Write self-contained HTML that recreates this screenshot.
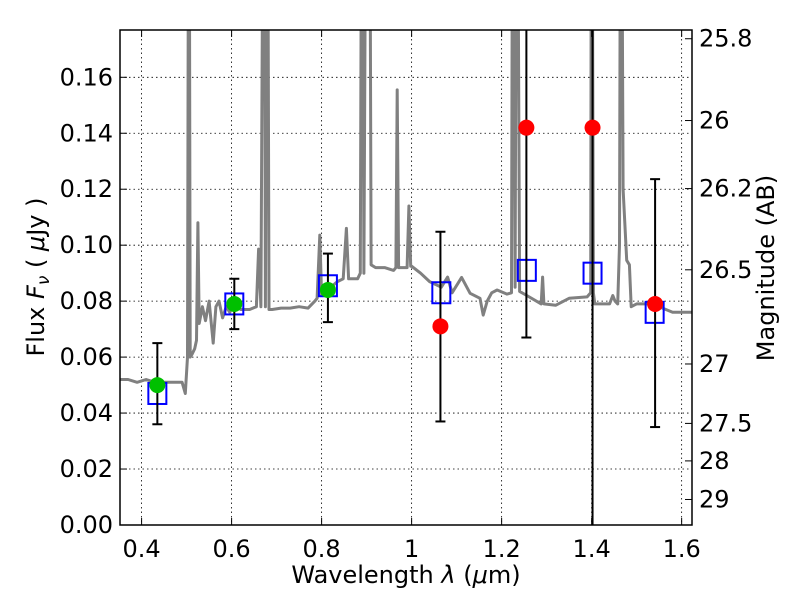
<!DOCTYPE html>
<html><head><meta charset="utf-8">
<style>
html,body{margin:0;padding:0;background:#fff;width:800px;height:600px;overflow:hidden;}
svg{display:block;}
svg text{font-family:"DejaVu Sans","Liberation Sans",sans-serif;fill:#000;}
</style></head>
<body>
<svg id="chart" width="800" height="600" viewBox="0 0 800 600" xmlns="http://www.w3.org/2000/svg">
<defs><clipPath id="plotclip"><rect x="120" y="30" width="572" height="495"/></clipPath></defs>
<rect x="0" y="0" width="800" height="600" fill="#fff"/>
<g id="grid"></g>
<g id="spec" clip-path="url(#plotclip)"></g>
<g id="marks" clip-path="url(#plotclip)"></g>
<g id="axes"></g>
<text x="406" y="583" font-size="24" text-anchor="middle">Wavelength  <tspan font-style="italic">λ</tspan> (<tspan font-style="italic">μ</tspan>m)</text>
<text transform="translate(44,277) rotate(-90)" font-size="24" text-anchor="middle">Flux  <tspan font-style="italic">F</tspan><tspan font-style="italic" font-size="17" dy="5">ν</tspan><tspan dy="-5">  ( </tspan><tspan font-style="italic">μ</tspan>Jy )</text>
<text transform="translate(774,268) rotate(-90)" font-size="24" text-anchor="middle">Magnitude (AB)</text>
</svg>
<script>
const xTicks = [0.4, 0.6, 0.8, 1.0, 1.2, 1.4, 1.6];
const xTickLabels = ["0.4", "0.6", "0.8", "1", "1.2", "1.4", "1.6"];
const yTicks = [0, 0.02, 0.04, 0.06, 0.08, 0.10, 0.12, 0.14, 0.16];
const yTickLabels = ["0.00", "0.02", "0.04", "0.06", "0.08", "0.10", "0.12", "0.14", "0.16"];
const magTicks = [25.8, 26, 26.2, 26.5, 27, 27.5, 28, 29];
const magTickLabels = ["25.8", "26", "26.2", "26.5", "27", "27.5", "28", "29"];

const specLam = [0.352,0.37,0.39,0.41,0.43,0.45,0.47,0.49,0.497,0.502,0.505,0.508,0.512,0.518,0.522,0.525,0.528,0.535,0.542,0.55,0.559,0.565,0.572,0.58,0.588,0.596,0.606,0.62,0.64,0.655,0.66,0.665,0.672,0.675,0.679,0.683,0.69,0.71,0.73,0.75,0.77,0.785,0.79,0.796,0.8,0.81,0.82,0.835,0.848,0.855,0.86,0.87,0.88,0.886,0.89,0.894,0.9,0.906,0.91,0.92,0.94,0.96,0.965,0.968,0.971,0.98,0.99,0.994,0.998,1.0,1.02,1.04,1.066,1.08,1.09,1.111,1.13,1.152,1.159,1.168,1.178,1.19,1.212,1.222,1.225,1.23,1.234,1.24,1.256,1.288,1.291,1.294,1.32,1.35,1.39,1.398,1.4,1.404,1.407,1.44,1.447,1.452,1.458,1.462,1.465,1.47,1.478,1.484,1.488,1.5,1.54,1.55,1.58,1.623];
const specFlux = [0.052,0.052,0.051,0.052,0.051,0.051,0.051,0.051,0.047,0.06,0.3,0.06,0.061,0.063,0.066,0.108,0.072,0.078,0.073,0.08,0.065,0.078,0.08,0.074,0.078,0.076,0.08,0.077,0.077,0.078,0.0986,0.078,0.3,0.078,0.3,0.077,0.077,0.0775,0.0775,0.078,0.0775,0.08,0.081,0.1036,0.082,0.084,0.085,0.087,0.088,0.106,0.088,0.088,0.088,0.09,0.3,0.09,0.3,0.3,0.093,0.092,0.092,0.091,0.092,0.1555,0.092,0.092,0.092,0.114,0.0925,0.0925,0.09,0.087,0.085,0.0886,0.083,0.0885,0.0828,0.081,0.075,0.08,0.083,0.084,0.0825,0.083,0.3,0.085,0.3,0.0835,0.082,0.079,0.0886,0.079,0.0785,0.081,0.0815,0.083,0.3,0.083,0.079,0.079,0.082,0.08,0.079,0.1,0.3,0.12,0.0946,0.093,0.078,0.079,0.079,0.078,0.076,0.076];

const greenLam = [0.435, 0.606, 0.814];
const greenFlux = [0.050, 0.079, 0.084];
const greenErrLo = [0.036, 0.070, 0.0725];
const greenErrHi = [0.065, 0.088, 0.097];

const redLam = [1.064, 1.255, 1.402, 1.541];
const redFlux = [0.071, 0.142, 0.142, 0.079];
const redErrLo = [0.037, 0.067, -0.1, 0.035];
const redErrHi = [0.1048, 0.5, 0.5, 0.1236];

const modelLam = [0.435, 0.606, 0.814, 1.066, 1.256, 1.402, 1.54];
const modelFlux = [0.047, 0.079, 0.0855, 0.083, 0.091, 0.090, 0.076];

const X0=120, X1=692, Y0=525, Y1=30;
const xMin=0.352, xMax=1.623, yMin=0, yMax=0.1769;
function xs(v){return X0+(v-xMin)/(xMax-xMin)*(X1-X0);}
function ys(v){return Y0-(v-yMin)/(yMax-yMin)*(Y0-Y1);}
function magToFlux(m){return Math.pow(10,(23.9-m)/2.5);}
const NS="http://www.w3.org/2000/svg";
function mk(tag, attrs, parent){const e=document.createElementNS(NS,tag);for(const k in attrs)e.setAttribute(k,attrs[k]);parent.appendChild(e);return e;}
const grid=document.getElementById('grid'), spec=document.getElementById('spec'), marks=document.getElementById('marks'), axes=document.getElementById('axes');

xTicks.forEach((t,i)=>{
  const x=xs(t);
  const g=mk('line',{x1:x,x2:x,y1:Y1,y2:Y0,stroke:'#000','stroke-width':0.8,'stroke-dasharray':'1.5,3'},grid);
  
  
  mk('line',{x1:x,x2:x,y1:Y0,y2:Y0-7,stroke:'#000','stroke-width':1},axes);
  mk('line',{x1:x,x2:x,y1:Y1,y2:Y1+7,stroke:'#000','stroke-width':1},axes);
  const tx=mk('text',{x:x,y:557,'font-size':24,'text-anchor':'middle'},axes);
  tx.textContent=xTickLabels[i];
  
  
});
yTicks.forEach((t,i)=>{
  const y=ys(t);
  const g=mk('line',{x1:X0,x2:X1,y1:y,y2:y,stroke:'#000','stroke-width':0.8,'stroke-dasharray':'1.5,3'},grid);
  
  
  mk('line',{x1:X0,x2:X0+7,y1:y,y2:y,stroke:'#000','stroke-width':1},axes);
  const tx=mk('text',{x:113,y:y+8,'font-size':24,'text-anchor':'end'},axes);
  tx.textContent=yTickLabels[i];
  
  
});
magTicks.forEach((m,i)=>{
  const y=ys(magToFlux(m));
  mk('line',{x1:X1-7,x2:X1,y1:y,y2:y,stroke:'#000','stroke-width':1},axes);
  const tx=mk('text',{x:699,y:y+8,'font-size':24,'text-anchor':'start'},axes);
  tx.textContent=magTickLabels[i];
  
  
});

let d='';
specLam.forEach((l,i)=>{d+=(i?'L':'M')+xs(l).toFixed(1)+','+ys(specFlux[i]).toFixed(1);});
const sp=mk('path',{d:d,fill:'none',stroke:'#808080','stroke-width':3,'stroke-linejoin':'round'},spec);



function errbar(x,lo,hi){
  const g=mk('g',{},marks);
  
  
  mk('line',{x1:x,x2:x,y1:ys(lo),y2:ys(hi),stroke:'#000','stroke-width':2},g);
  mk('line',{x1:x-5,x2:x+5,y1:ys(lo),y2:ys(lo),stroke:'#000','stroke-width':2},g);
  mk('line',{x1:x-5,x2:x+5,y1:ys(hi),y2:ys(hi),stroke:'#000','stroke-width':2},g);
}
modelLam.forEach((l,i)=>{
  const r=mk('rect',{x:xs(l)-9,y:ys(modelFlux[i])-10.5,width:18,height:21,fill:'none',stroke:'#0000ff','stroke-width':2},marks);
  
  
});
greenLam.forEach((l,i)=>{
  errbar(xs(l),greenErrLo[i],greenErrHi[i]);
  const c=mk('circle',{cx:xs(l),cy:ys(greenFlux[i]),r:8,fill:'#00c000'},marks);
  
  
});
redLam.forEach((l,i)=>{
  errbar(xs(l),redErrLo[i],redErrHi[i]);
  const c=mk('circle',{cx:xs(l),cy:ys(redFlux[i]),r:8,fill:'#ff0000'},marks);
  
  
});
const frame=mk('rect',{x:X0,y:Y1,width:X1-X0,height:Y0-Y1,fill:'none',stroke:'#000','stroke-width':1.5},axes);


</script>
</body></html>
